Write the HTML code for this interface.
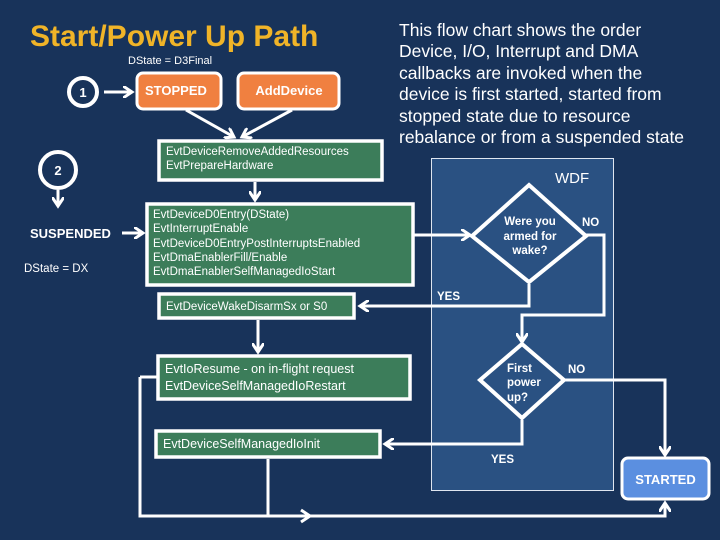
<!DOCTYPE html>
<html><head><meta charset="utf-8"><style>
html,body{margin:0;padding:0;background:#18335a;}
svg{display:block;}
text{font-family:"Liberation Sans",Arial,sans-serif;fill:#fff;}
</style></head><body>
<svg width="720" height="540" viewBox="0 0 720 540" xmlns="http://www.w3.org/2000/svg">
<defs>
<marker id="a" markerWidth="4" markerHeight="4" refX="3" refY="2" orient="auto" markerUnits="strokeWidth"><path d="M0,0 L3,2 L0,4" fill="none" stroke="#fff" stroke-width="1"/></marker>
</defs>
<rect width="720" height="540" fill="#18335a"/>
<text x="30" y="46" font-size="30" font-weight="bold" style="fill:#f0b428">Start/Power Up Path</text>
<text x="128" y="64" font-size="11">DState = D3Final</text>
<text x="399" y="36" font-size="17.5">This flow chart shows the order</text>
<text x="399" y="57" font-size="17.5">Device, I/O, Interrupt and DMA</text>
<text x="399" y="79" font-size="17.5">callbacks are invoked when the</text>
<text x="399" y="100" font-size="17.5">device is first started, started from</text>
<text x="399" y="122" font-size="17.5">stopped state due to resource</text>
<text x="399" y="143" font-size="17.5">rebalance or from a  suspended state</text>

<rect x="431.5" y="158.5" width="182" height="332" fill="#2a5182" stroke="#dfe6f0" stroke-width="1"/>
<text x="555" y="183" font-size="15">WDF</text>

<g stroke="#fff" stroke-width="4" fill="none">
<circle cx="83" cy="92" r="14"/>
<circle cx="58" cy="170" r="18"/>
</g>
<text x="83" y="97" font-size="13" font-weight="bold" text-anchor="middle">1</text>
<text x="58" y="175" font-size="13" font-weight="bold" text-anchor="middle">2</text>

<rect x="137" y="73" width="84" height="36" rx="6" fill="#f08040" stroke="#fff" stroke-width="3"/>
<text x="145" y="95" font-size="13" font-weight="bold">STOPPED</text>
<rect x="238" y="73" width="101" height="36" rx="6" fill="#f08040" stroke="#fff" stroke-width="3"/>
<text x="289" y="95" font-size="13" font-weight="bold" text-anchor="middle">AddDevice</text>

<g fill="#3c7d5a" stroke="#fff" stroke-width="3.5">
<rect x="159" y="141" width="223" height="39"/>
<rect x="147" y="204" width="266" height="81"/>
<rect x="159" y="294" width="195" height="24"/>
<rect x="158" y="356" width="252" height="43"/>
<rect x="156" y="431" width="224" height="26"/>
</g>
<g font-size="11.5">
<text x="166" y="155">EvtDeviceRemoveAddedResources</text>
<text x="166" y="169">EvtPrepareHardware</text>
<text x="153" y="218">EvtDeviceD0Entry(DState)</text>
<text x="153" y="232">EvtInterruptEnable</text>
<text x="153" y="247">EvtDeviceD0EntryPostInterruptsEnabled</text>
<text x="153" y="261">EvtDmaEnablerFill/Enable</text>
<text x="153" y="275">EvtDmaEnablerSelfManagedIoStart</text>
<text x="166" y="310">EvtDeviceWakeDisarmSx or S0</text>
</g>
<g font-size="12.5">
<text x="165" y="373">EvtIoResume - on in-flight request</text>
<text x="165" y="390">EvtDeviceSelfManagedIoRestart</text>
<text x="163" y="448">EvtDeviceSelfManagedIoInit</text>
</g>

<text x="30" y="238" font-size="13" font-weight="bold">SUSPENDED</text>
<text x="24" y="272" font-size="11.5">DState = DX</text>

<g stroke="#fff" stroke-width="4" fill="none">
<path d="M529,185 L586,236 L529,282 L472,236 Z"/>
<path d="M522,344 L564,380 L522,418 L480,380 Z"/>
</g>
<g font-size="11.5" font-weight="bold" text-anchor="middle">
<text x="530" y="225">Were you</text>
<text x="530" y="240">armed  for</text>
<text x="530" y="254">wake?</text>
</g>
<g font-size="11.5" font-weight="bold">
<text x="507" y="372">First</text>
<text x="507" y="386">power</text>
<text x="507" y="401">up?</text>
<text x="582" y="226">NO</text>
<text x="568" y="373">NO</text>
<text x="437" y="300">YES</text>
<text x="491" y="463">YES</text>
</g>

<rect x="622" y="458" width="87" height="41" rx="6" fill="#5b8fe0" stroke="#fff" stroke-width="3"/>
<text x="665.5" y="484" font-size="13" font-weight="bold" text-anchor="middle">STARTED</text>

<g stroke="#fff" stroke-width="3" fill="none" marker-end="url(#a)">
<line x1="104" y1="92" x2="132" y2="92"/>
<line x1="186" y1="110" x2="234" y2="137"/>
<line x1="292" y1="110" x2="242" y2="137"/>
<line x1="58" y1="190" x2="58" y2="206"/>
<line x1="122" y1="233" x2="143" y2="233"/>
<line x1="255" y1="182" x2="255" y2="200"/>
<line x1="413" y1="235" x2="470" y2="235"/>
<polyline points="529,284 529,306 360,306" />
<line x1="258" y1="320" x2="258" y2="352"/>
<polyline points="586,235 604,235 604,315 522,315 522,342"/>
<polyline points="564,380 665,380 665,455"/>
<polyline points="522,420 522,444 385,444"/>
<polyline points="140,377 140,516 665,516 665,503"/>
</g>
<g stroke="#fff" stroke-width="3" fill="none">
<line x1="157" y1="377" x2="140" y2="377"/>
<line x1="268" y1="459" x2="268" y2="516"/>
<path d="M301,510 L310,516 L301,522"/>
</g>
</svg>
</body></html>
